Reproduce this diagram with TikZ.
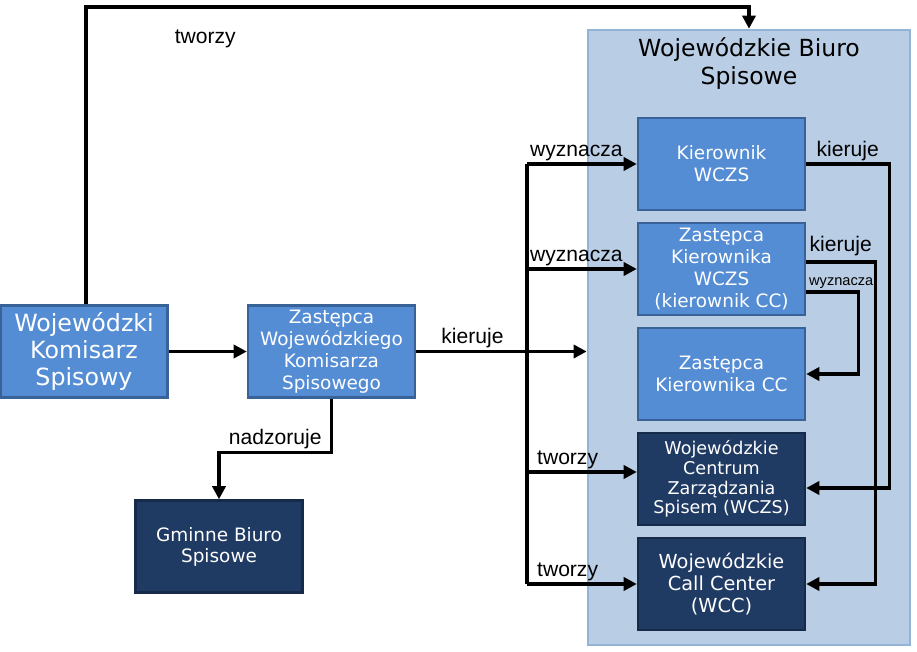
\documentclass[tikz,border=0pt]{standalone}
\usepackage{fontspec}
\setmainfont{Liberation Sans}
\newfontfamily\boxfont{DejaVu Sans}
\usetikzlibrary{arrows.meta,positioning}

\definecolor{unitfill}{RGB}{84,141,212}
\definecolor{unitedge}{RGB}{56,98,152}
\definecolor{darkfill}{RGB}{31,58,99}
\definecolor{darkedge}{RGB}{22,42,74}
\definecolor{bureaufill}{RGB}{185,205,229}
\definecolor{bureauedge}{RGB}{149,179,215}

\begin{document}
\begin{tikzpicture}[x=0.02cm,y=-0.02cm,
    unit/.style={rectangle,draw=unitedge,line width=1.4pt,fill=unitfill,text=white,align=center,minimum width=3.34cm,minimum height=1.84cm,inner sep=1pt,font=\boxfont\fontsize{10.5}{12.5}\selectfont},
    darkunit/.style={unit,fill=darkfill,draw=darkedge},
    bureau/.style={rectangle,draw=bureauedge,line width=1.5pt,fill=bureaufill,minimum width=6.44cm,minimum height=12.3cm},
    arrow/.style={-{Triangle[length=7.5pt,width=7.5pt]},line width=1.9pt},
    link/.style={line width=1.9pt},
    lbl/.style={font=\fontsize{12}{14}\selectfont,inner sep=1pt}
]
\useasboundingbox (0,0) rectangle (917,652);

% Wojewodzkie Biuro Spisowe (container)
\node[bureau] (wbs) at (749,337.5) {};
\node[font=\boxfont\fontsize{13.4}{15.9}\selectfont,align=center] (wbstitle) at (749,64) {Wojewódzkie Biuro\\Spisowe};

% Left side
\node[unit,font=\boxfont\fontsize{13.5}{15.6}\selectfont] (wks) at (84,351.5) {Wojewódzki\\Komisarz\\Spisowy};
\node[unit] (zwks) at (331.5,351.5) {Zastępca\\Wojewódzkiego\\Komisarza\\Spisowego};
\node[darkunit,font=\boxfont\fontsize{10.5}{12}\selectfont] (gbs) at (219,546.5) {Gminne Biuro\\Spisowe};

% Units inside the bureau
\node[unit] (kier) at (721.5,164) {Kierownik\\WCZS};
\node[unit] (zkier) at (721.5,269) {Zastępca\\Kierownika\\WCZS\\(kierownik CC)};
\node[unit] (zcc) at (721.5,374) {Zastępca\\Kierownika CC};
\node[darkunit,font=\boxfont\fontsize{10}{11.2}\selectfont] (wczs) at (721.5,479) {Wojewódzkie\\Centrum\\Zarządzania\\Spisem (WCZS)};
\node[darkunit,font=\boxfont\fontsize{11}{12.5}\selectfont] (wcc) at (721.5,584) {Wojewódzkie\\Call Center\\(WCC)};

% Top connector
\coordinate (top) at (86,7);
\draw[arrow] (wks.north -| top) -- (top) -| node[pos=0.09,below=0.38cm,lbl] {tworzy} (wbs.north);

% Main chain
\draw[arrow] (wks) -- (zwks);
\draw[arrow] (zwks.east) -- node[pos=0.33,above,lbl] {kieruje} (wbs.west |- zwks.east);
\draw[arrow] (zwks.south) -- ++(0,54) -| node[pos=0.25,above,lbl] {nadzoruje} (gbs.north);

% Trunk with branches
\coordinate (trunk) at (527,352);
\draw[link] (trunk |- kier.west) -- (trunk |- wcc.west);
\draw[arrow] (trunk |- kier.west) -- node[pos=0.45,above,lbl] {wyznacza} (kier.west);
\draw[arrow] (trunk |- zkier.west) -- node[pos=0.45,above,lbl] {wyznacza} (zkier.west);
\draw[arrow] ([yshift=0.14cm]trunk |- wczs.west) -- node[pos=0.37,above,lbl] {tworzy} ([yshift=0.14cm]wczs.west);
\draw[arrow] (trunk |- wcc.west) -- node[pos=0.37,above,lbl] {tworzy} (wcc.west);

% Right side connectors
\draw[arrow] (kier.east) -- ++(83,0) node[midway,above,lbl] {kieruje} |- ([yshift=-0.18cm]wczs.east);
\draw[arrow] ([yshift=0.14cm]zkier.east) -- ++(69,0) node[midway,above=0.05cm,lbl] {kieruje} |- (wcc.east);
\draw[arrow] ([yshift=-0.46cm]zkier.east) -- ++(52,0) node[midway,above,xshift=0.18cm,font=\fontsize{8.3}{10}\selectfont,inner sep=1pt] {wyznacza} |- (zcc.east);

\end{tikzpicture}
\end{document}
